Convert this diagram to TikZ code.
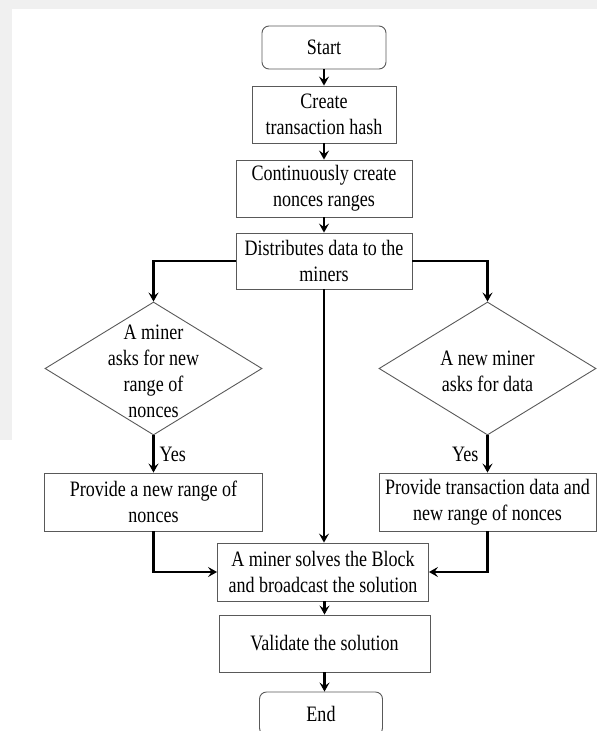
\documentclass[tikz,border=0pt]{standalone}
\usepackage{fontspec}
\setmainfont{Liberation Serif}[FakeStretch=0.82]
\usetikzlibrary{shapes.geometric,arrows.meta}
\begin{document}
\begin{tikzpicture}[x=1pt,y=-1pt,
  every node/.style={font=\fontsize{22}{26}\selectfont},
  box/.style={draw=black!65, line width=0.9pt, inner sep=0pt, align=center},
  term/.style={box, rounded corners=7pt},
  dec/.style={draw=black!65, line width=0.9pt, diamond, inner sep=0pt, minimum width=217pt, minimum height=133pt},
  txt/.style={align=center, inner sep=0pt},
  conn/.style={line width=2.2pt, -{Stealth[length=9pt,width=10pt,inset=3.5pt]}},
  lbl/.style={inner sep=0pt}]
\useasboundingbox (0,0) rectangle (597,731);
\fill[gray!12] (0,0) rectangle (597,9);
\fill[gray!12] (0,0) rectangle (12,440);

\node[term, minimum width=124pt, minimum height=43pt] (start) at (324,47.5) {Start};
\node[box, minimum width=144pt, minimum height=57pt] (create) at (324,114.5) {Create\\transaction hash};
\node[box, minimum width=176pt, minimum height=57pt] (cont) at (324,188.5) {Continuously create\\nonces ranges};
\node[box, minimum width=176pt, minimum height=56pt] (dist) at (324,261) {Distributes data to the\\miners};

\node[dec] (d1) at (153.5,368.5) {};
\node[txt] (d1t) at (153.5,371) {A miner\\asks for new\\range of\\nonces};
\node[dec] (d2) at (487.5,368.5) {};
\node[txt] (d2t) at (487.5,371) {A new miner\\asks for data};

\node[box, minimum width=218pt, minimum height=58pt] (p1) at (153.5,502) {Provide a new range of\\nonces};
\node[box, minimum width=217pt, minimum height=58pt] (p2) at (487.5,502) {Provide transaction data and\\new range of nonces};

\node[box, minimum width=211pt, minimum height=58pt] (solve) at (323,572) {A miner solves the Block\\and broadcast the solution};
\node[box, minimum width=211pt, minimum height=57pt] (valid) at (324.5,643.5) {Validate the solution};
\node[term, minimum width=123pt, minimum height=43pt] (end) at (321,713.5) {End};

\draw[conn] (start) -- (create);
\draw[conn] (create) -- (cont);
\draw[conn] (cont) -- (dist);
\draw[conn] (dist.west) -| (d1.north);
\draw[conn] (dist.east) -| (d2.north);
\draw[conn] (dist.south) -- (dist.south |- solve.north);
\draw[conn] (d1.south) -- node[lbl, right=5pt] (y1) {Yes} (p1.north);
\draw[conn] (d2.south) -- node[lbl, left=8pt] (y2) {Yes} (p2.north);
\draw[conn] (p1.south) |- (solve.west);
\draw[conn] (p2.south) |- (solve.east);
\draw[conn] (solve.south -| valid.north) -- (valid.north);
\draw[conn] (valid.south) -- (valid.south |- end.north);
\end{tikzpicture}
\end{document}
